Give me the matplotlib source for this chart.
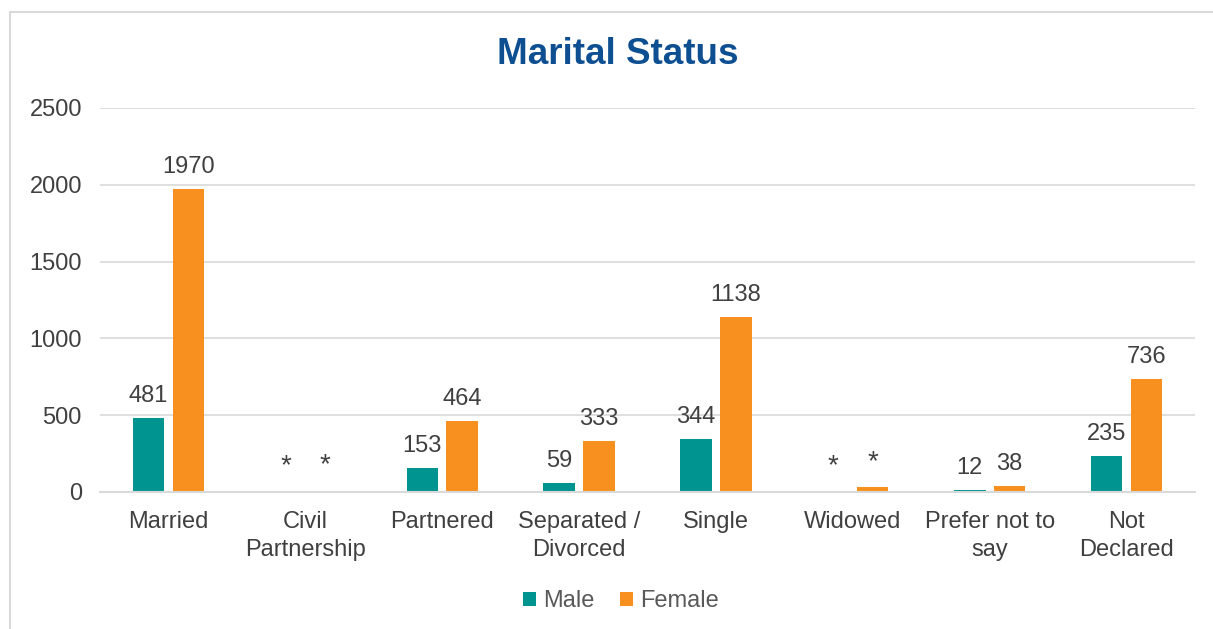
import matplotlib.pyplot as plt
import numpy as np
from matplotlib.patches import Rectangle

plt.rcParams['font.family'] = ['Liberation Sans', 'DejaVu Sans']

categories = ['Married', 'Civil\nPartnership', 'Partnered', 'Separated /\nDivorced',
              'Single', 'Widowed', 'Prefer not to\nsay', 'Not\nDeclared']
male = [481, 4, 153, 59, 344, 4, 12, 235]
female = [1970, 6, 464, 333, 1138, 30, 38, 736]
male_labels = ['481', '*', '153', '59', '344', '*', '12', '235']
female_labels = ['1970', '*', '464', '333', '1138', '*', '38', '736']

teal = '#009490'
orange = '#F7901E'
txt = '#404040'
fs = 17

fig = plt.figure(figsize=(12.13, 6.29), dpi=100)
fig.patches.append(Rectangle((10 / 1213, -0.1), 1.2, 1 - 12 / 629 + 0.1,
                             transform=fig.transFigure, fill=False,
                             edgecolor='#d9d9d9', linewidth=1.5))
ax = fig.add_axes([100 / 1213, 1 - 492 / 629, 1095 / 1213, 384 / 629])

x = np.arange(len(categories))
w = 0.23
off = 0.145
b1 = ax.bar(x - off, male, w, color=teal, label='Male')
b2 = ax.bar(x + off, female, w, color=orange, label='Female')

for bars, labs in ((b1, male_labels), (b2, female_labels)):
    for b, lab in zip(bars, labs):
        star = lab == '*'
        ax.annotate(lab, (b.get_x() + b.get_width() / 2, b.get_height()),
                    xytext=(0, 9 if star else 8), textcoords='offset points',
                    ha='center', va='bottom', fontsize=20 if star else fs,
                    color=txt)

ax.set_xlim(-0.5, len(categories) - 0.5)
ax.set_ylim(0, 2500)
ax.set_yticks([0, 500, 1000, 1500, 2000, 2500])
ax.set_xticks(x)
ax.set_xticklabels(categories, fontsize=fs, color=txt, linespacing=1.35)
ax.tick_params(axis='y', labelsize=fs, labelcolor=txt, length=0, pad=13)
ax.tick_params(axis='x', length=0, pad=14)
ax.grid(axis='y', color='#d9d9d9', linewidth=1.2)
ax.set_axisbelow(True)
for s in ['top', 'right', 'left']:
    ax.spines[s].set_visible(False)
ax.spines['bottom'].set_color('#d9d9d9')
ax.spines['bottom'].set_linewidth(1.5)

fig.text(618 / 1213, 1 - 55 / 629, 'Marital Status', ha='center', va='center',
         fontsize=26.5, fontweight='bold', color='#0D4F91')

fig.legend(loc='center', bbox_to_anchor=(621 / 1213, 1 - 601 / 629), ncol=2,
           frameon=False, fontsize=fs, labelcolor='#595959',
           handlelength=0.55, handleheight=0.55, handletextpad=0.3,
           columnspacing=1.1)

fig.savefig('out.png', dpi=100)
